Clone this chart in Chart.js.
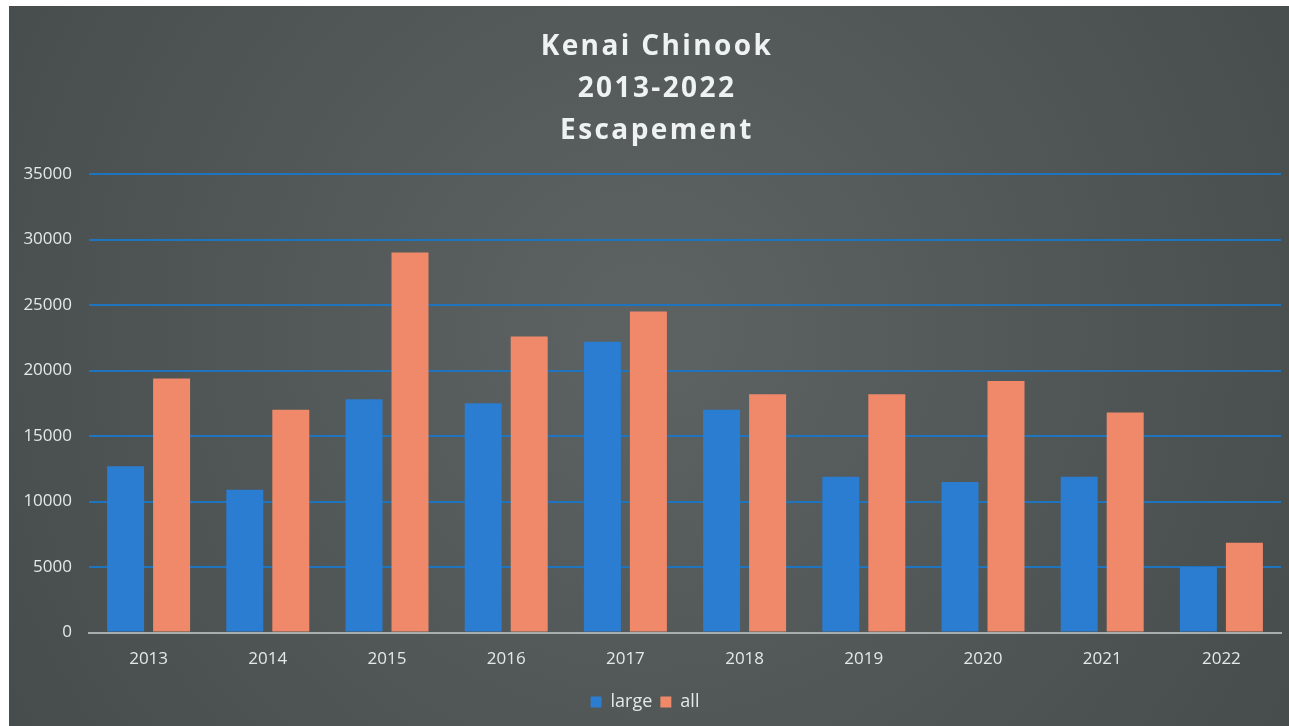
<!DOCTYPE html>
<html>
<head>
<meta charset="utf-8">
<script src="https://cdn.jsdelivr.net/npm/chart.js@4"></script>
<style>
html,body{margin:0;padding:0;background:#fff;}
#wrap{position:absolute;left:9px;top:6px;width:1280px;height:720px;}
</style>
</head>
<body>
<div id="wrap"><canvas id="c" width="1280" height="720"></canvas></div>
<script>
const categories = ["2013","2014","2015","2016","2017","2018","2019","2020","2021","2022"];
const largeValues = [12700, 10900, 17800, 17500, 22200, 17000, 11900, 11500, 11900, 5000];
const allValues = [19400, 17000, 29000, 22600, 24500, 18200, 18200, 19200, 16800, 6850];
const titleLines = ["Kenai Chinook", "2013-2022", "Escapement"];
const yTicks = [0, 5000, 10000, 15000, 20000, 25000, 30000, 35000];

const bgPlugin = {
  id: 'bg',
  beforeDraw(chart) {
    const {ctx, width, height} = chart;
    ctx.save();
    const g = ctx.createRadialGradient(width/2, height*0.45, 50, width/2, height*0.45, width*0.65);
    g.addColorStop(0, '#5c6261');
    g.addColorStop(1, '#434a49');
    ctx.fillStyle = g;
    ctx.fillRect(0, 0, width, height);
    ctx.restore();
    const tb = chart.titleBlock;
    if (tb && !tb._spaced) {
      const orig = tb.draw;
      tb.draw = function() {
        const c = this.ctx || chart.ctx;
        c.save();
        c.letterSpacing = '2.4px';
        c.translate(12, 0);
        orig.apply(this, arguments);
        c.restore();
      };
      tb._spaced = true;
    }
  }
};

new Chart(document.getElementById('c'), {
  type: 'bar',
  data: {
    labels: categories,
    datasets: [
      {label: 'large', data: largeValues, backgroundColor: '#2b7dd2'},
      {label: 'all', data: allValues, backgroundColor: '#f0886a'}
    ]
  },
  options: {
    responsive: false,
    animation: false,
    categoryPercentage: 0.772,
    barPercentage: 0.804,
    layout: {padding: {left: 0, right: 8, top: 0, bottom: 5}},
    plugins: {
      title: {
        display: true,
        text: titleLines,
        color: '#eef2f2',
        font: {family: 'Open Sans', size: 28, weight: 'bold', lineHeight: 1.5},
        padding: {top: 20, bottom: 22}
      },
      legend: {
        position: 'bottom',
        labels: {
          color: '#e4e8e8',
          font: {family: 'Open Sans', size: 18},
          boxWidth: 11, boxHeight: 11, padding: 8
        }
      },
      tooltip: {enabled: false}
    },
    scales: {
      x: {
        grid: {display: false, drawTicks: false},
        border: {display: true, color: '#a9adad', width: 2},
        ticks: {color: '#e4e8e8', font: {family: 'Open Sans', size: 17}, padding: 16}
      },
      y: {
        min: 0, max: 35000,
        afterBuildTicks(scale) { scale.ticks = yTicks.map(v => ({value: v})); },
        afterFit(scale) { scale.width = 80; },
        grid: {color: '#1f74c0', lineWidth: 2, drawTicks: false},
        border: {display: false},
        ticks: {color: '#e4e8e8', font: {family: 'Open Sans', size: 17}, padding: 17, callback: v => String(v)}
      }
    }
  },
  plugins: [bgPlugin]
});
</script>
</body>
</html>
